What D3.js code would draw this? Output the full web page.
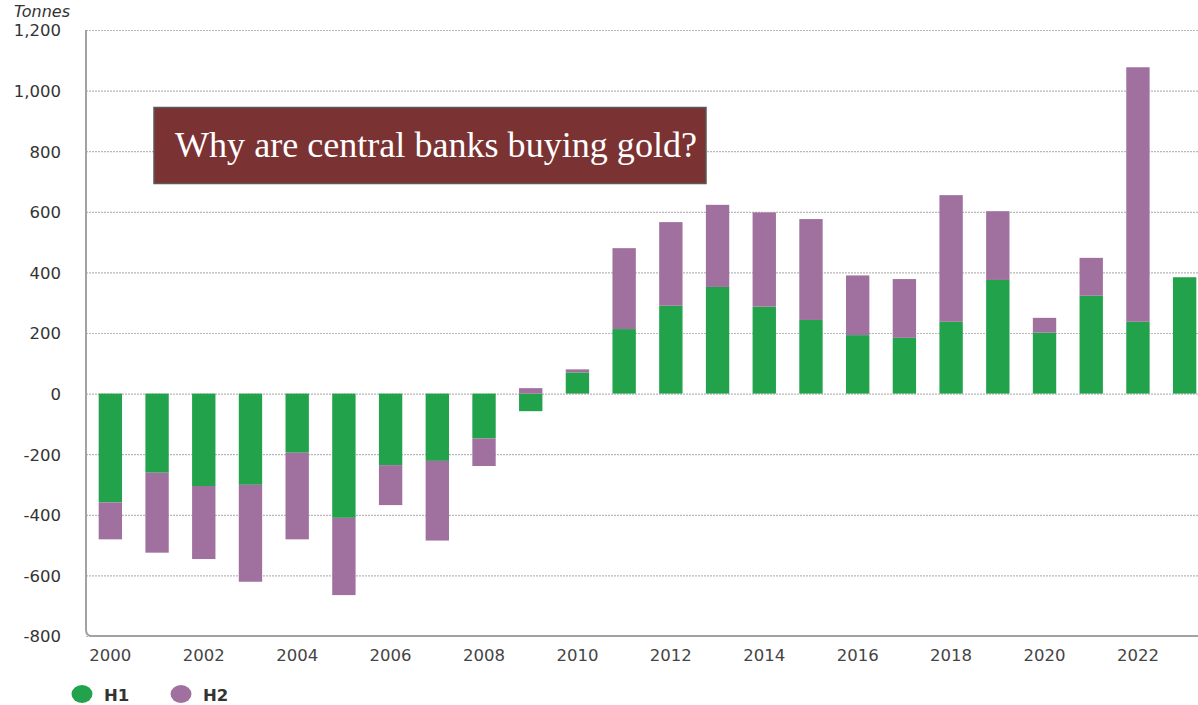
<!DOCTYPE html>
<html>
<head>
<meta charset="utf-8">
<script src="https://cdn.jsdelivr.net/npm/d3@7"></script>
<style>
  body { margin: 0; background: #fff; overflow: hidden; }
  svg { display: block; }
</style>
</head>
<body>
<div class="canvas"></div>
<script>
// data (tonnes)
const years = d3.range(2000, 2024);
const h1 = [-359, -261, -305, -301, -195, -410, -236, -222, -148, -58, 70, 213, 290, 352, 287, 243, 193, 184, 237, 375, 201, 323, 237, 384];
const h2 = [-122, -264, -241, -320, -286, -255, -132, -263, -91, 18, 10, 267, 276, 271, 311, 333, 197, 194, 418, 227, 49, 125, 840, 0];
const yTicks = [-800, -600, -400, -200, 0, 200, 400, 600, 800, 1000, 1200];
const xLabels = years.filter(y => y % 2 === 0);
const seriesNames = ['H1', 'H2'];
const colors = ['#21a24b', '#a0719e'];
const title = 'Why are central banks buying gold?';

const width = 1198, height = 705;
const sans = 'DejaVu Sans, Verdana, sans-serif';

const svg = d3.select('.canvas').append('svg')
    .attr('width', width)
    .attr('height', height);

// Scales
const x = d3.scaleBand()
    .domain(years)
    .range([87, 1208])
    .paddingInner(0.5)
    .paddingOuter(0.25);

const y = d3.scaleLinear()
    .domain([-800, 1200])
    .range([636, 30]);

// grid lines + y labels
const yAxis = d3.axisLeft(y)
    .tickValues(yTicks)
    .tickSize(-(width - 86))
    .tickFormat(d => d3.format(',')(d).replace('−', '-'));

const gy = svg.append('g')
    .attr('transform', 'translate(86,0)')
    .call(yAxis);
gy.select('.domain').remove();
gy.selectAll('.tick line')
    .attr('stroke', '#b8b8b8')
    .attr('stroke-width', 1.2)
    .attr('stroke-dasharray', '2,1');
gy.selectAll('.tick text')
    .attr('x', -25)
    .attr('dy', '0.36em')
    .attr('fill', '#333')
    .attr('font-family', sans)
    .attr('font-size', '16.5px');

// stacked bars (diverging for negative values)
const rows = years.map((yr, i) => ({ year: yr, H1: h1[i], H2: h2[i] }));
const stacked = d3.stack()
    .keys(seriesNames)
    .offset(d3.stackOffsetDiverging)(rows);

svg.append('g')
    .selectAll('g')
    .data(stacked)
    .enter()
    .append('g')
    .attr('fill', (d, i) => colors[i])
    .selectAll('rect')
    .data(d => d)
    .enter()
    .append('rect')
    .attr('x', d => x(d.data.year))
    .attr('y', d => y(Math.max(d[0], d[1])))
    .attr('width', x.bandwidth())
    .attr('height', d => Math.abs(y(d[0]) - y(d[1])));

// axis lines
svg.append('path')
    .attr('d', `M86,30 V630 Q86,636 92,636 H${width}`)
    .attr('fill', 'none')
    .attr('stroke', '#a2a2a2')
    .attr('stroke-width', 2);

// x labels
const xAxis = d3.axisBottom(x)
    .tickValues(xLabels)
    .tickSize(0)
    .tickPadding(13);
const gx = svg.append('g')
    .attr('transform', 'translate(0,636)')
    .call(xAxis);
gx.select('.domain').remove();
gx.selectAll('.tick text')
    .attr('fill', '#444')
    .attr('font-family', sans)
    .attr('font-size', '16.5px');

// unit label
svg.append('text')
    .attr('x', 14)
    .attr('y', 17)
    .attr('font-family', sans)
    .attr('font-style', 'italic')
    .attr('font-size', '16px')
    .attr('fill', '#333')
    .text('Tonnes');

// legend
const legend = svg.append('g')
    .selectAll('g')
    .data(seriesNames)
    .enter()
    .append('g')
    .attr('transform', (d, i) => `translate(${82 + i * 99}, 694)`);
legend.append('ellipse')
    .attr('rx', 10.5)
    .attr('ry', 9)
    .attr('fill', (d, i) => colors[i]);
legend.append('text')
    .attr('x', 22)
    .attr('y', 6.5)
    .attr('font-family', sans)
    .attr('font-weight', 'bold')
    .attr('font-size', '16.5px')
    .attr('fill', '#333')
    .text(d => d);

// title box
svg.append('rect')
    .attr('x', 154)
    .attr('y', 107.5)
    .attr('width', 552)
    .attr('height', 76)
    .attr('fill', '#7b3233')
    .attr('stroke', '#5a5a5a')
    .attr('stroke-width', 1.5);
svg.append('text')
    .attr('x', 175)
    .attr('y', 157)
    .attr('font-family', 'Liberation Serif, Times New Roman, serif')
    .attr('font-size', '35px')
    .attr('fill', '#fff')
    .attr('textLength', 522)
    .attr('lengthAdjust', 'spacingAndGlyphs')
    .text(title);
</script>
</body>
</html>
